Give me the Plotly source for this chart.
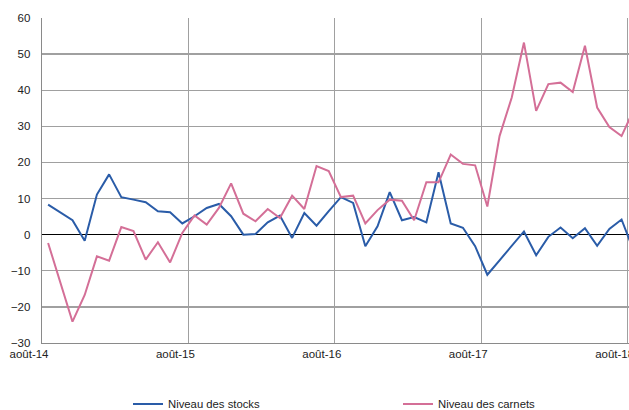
import plotly.graph_objects as go

months = [f"{m}-{y}" for y, ms in [(14, range(8, 13)), (15, range(1, 13)), (16, range(1, 13)),
                                    (17, range(1, 13)), (18, range(1, 9))] for m in ms]
tick_labels = ["août-14", "août-15", "août-16", "août-17", "août-18"]
tick_index = [0, 12, 24, 36, 48]

stocks = [8.3, 6.2, 4.0, -1.7, 11.1, 16.7, 10.4, 9.7, 9.0, 6.5, 6.2, 3.1,
          5.1, 7.4, 8.5, 5.1, 0.0, 0.2, 3.4, 5.3, -0.9, 6.0, 2.5, 6.5,
          10.4, 8.8, -3.2, 2.3, 11.8, 4.0, 4.9, 3.4, 17.3, 3.1, 1.9, -3.2,
          -11.1, -7.1, -3.2, 0.9, -5.7, -0.6, 2.0, -1.0, 1.8, -3.1, 1.6, 4.2,
          -4.5]
carnets = [-2.3, -13.4, -24.1, -16.7, -6.0, -7.2, 2.1, 1.0, -6.9, -2.1, -7.7, 0.5,
           5.3, 2.8, 7.4, 14.2, 5.8, 3.7, 7.1, 4.6, 10.8, 7.1, 19.0, 17.6,
           10.4, 10.8, 3.1, 6.8, 9.7, 9.4, 4.0, 14.5, 14.5, 22.2, 19.6, 19.2,
           7.8, 27.3, 38.0, 53.2, 34.3, 41.7, 42.1, 39.5, 52.3, 35.2, 29.8, 27.3,
           34.6]

x = [i + 0.5 for i in range(len(stocks))]

FONT = "Liberation Sans, Arial, sans-serif"
fig = go.Figure()
fig.add_trace(go.Scatter(x=x, y=stocks, mode="lines", name="Niveau des stocks",
                         line=dict(color="#2a5ca8", width=2), text=months, legend="legend"))
fig.add_trace(go.Scatter(x=x, y=carnets, mode="lines", name="Niveau des carnets",
                         line=dict(color="#d46f97", width=2), text=months, legend="legend2"))

leg_common = dict(orientation="h", xref="container", yref="container",
                  xanchor="left", yanchor="middle",
                  font=dict(family=FONT, size=11.3, color="#222222"),
                  itemwidth=30, bgcolor="rgba(0,0,0,0)")

fig.update_layout(
    width=629, height=410,
    margin=dict(l=42, r=0, t=18, b=67, autoexpand=False),
    paper_bgcolor="white", plot_bgcolor="white",
    font=dict(family=FONT, size=11.5, color="#222222"),
    showlegend=True,
    legend=dict(x=128 / 629, y=6 / 410, **leg_common),
    legend2=dict(x=398 / 629, y=6 / 410, **leg_common),
    xaxis=dict(range=[0, 48.11], tickmode="array", tickvals=tick_index, ticktext=tick_labels,
               showgrid=True, gridcolor="#a0a0a0", gridwidth=1.3,
               showline=True, linecolor="#8a8a8a", linewidth=1.3,
               ticks="", ticklabelshift=-13, ticklabeloverflow="allow",
               zeroline=False, fixedrange=True),
    yaxis=dict(range=[-30, 60], tickmode="linear", tick0=-30, dtick=10,
               showgrid=True, gridcolor="#a0a0a0", gridwidth=1.3,
               showline=True, linecolor="#8a8a8a", linewidth=1.3,
               zeroline=True, zerolinecolor="#000000", zerolinewidth=1.2,
               ticks="", ticklabelstandoff=8, fixedrange=True),
)

fig.write_html("out.html", config={"displayModeBar": False, "staticPlot": True},
               post_script="document.body.style.margin='0';document.body.style.overflow='hidden';")
